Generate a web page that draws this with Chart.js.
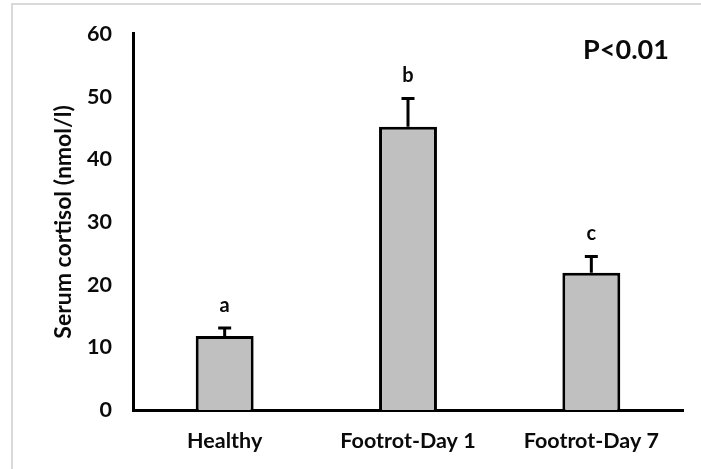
<!DOCTYPE html>
<html>
<head>
<meta charset="utf-8">
<style>
  html, body { margin: 0; padding: 0; background: #ffffff; }
  #wrap { width: 701px; height: 469px; position: relative; }
</style>
<script src="https://cdn.jsdelivr.net/npm/chart.js@4"></script>
</head>
<body>
<div id="wrap"><canvas id="chart" width="701" height="469"></canvas></div>
<script>
// Serum cortisol by group: mean, standard error and significance letters
const groups = ['Healthy', 'Footrot-Day 1', 'Footrot-Day 7'];
const cortisolMean = [11.8, 45.2, 21.9];
const cortisolSE = [1.3, 4.5, 2.6];
const sigLetters = ['a', 'b', 'c'];
const yTicks = [0, 10, 20, 30, 40, 50, 60];
const pLabel = 'P<0.01';

const FONT = 'Lato, "Open Sans", sans-serif';
const INK = '#0a0a0a';

// Light frame along the top and left edges
const framePlugin = {
  id: 'frame',
  beforeDraw(chart) {
    const ctx = chart.ctx;
    ctx.save();
    ctx.strokeStyle = '#d9d9d9';
    ctx.lineWidth = 2;
    ctx.beginPath();
    ctx.moveTo(12, chart.height);
    ctx.lineTo(12, 4);
    ctx.lineTo(chart.width, 4);
    ctx.stroke();
    ctx.restore();
  }
};

// Upper error bars, group letters and the P-value note
const errorPlugin = {
  id: 'errorBars',
  afterDatasetsDraw(chart) {
    const ctx = chart.ctx;
    const y = chart.scales.y;
    const meta = chart.getDatasetMeta(0);
    ctx.save();
    ctx.strokeStyle = '#000';
    ctx.lineWidth = 3;
    meta.data.forEach((bar, i) => {
      const x = bar.x;
      const yBase = y.getPixelForValue(cortisolMean[i]);
      const yTop = y.getPixelForValue(cortisolMean[i] + cortisolSE[i]);
      ctx.beginPath();
      ctx.moveTo(x, yBase);
      ctx.lineTo(x, yTop);
      ctx.moveTo(x - 6.5, yTop);
      ctx.lineTo(x + 6.5, yTop);
      ctx.stroke();
      ctx.fillStyle = INK;
      ctx.font = 'bold 20px ' + FONT;
      ctx.textAlign = 'center';
      ctx.textBaseline = 'alphabetic';
      ctx.fillText(sigLetters[i], x, yTop - 16);
    });
    const area = chart.chartArea;
    ctx.fillStyle = INK;
    ctx.font = 'bold 27px ' + FONT;
    ctx.textAlign = 'center';
    ctx.textBaseline = 'alphabetic';
    ctx.fillText(pLabel, area.right - 57, area.top + 25);
    ctx.restore();
  }
};

new Chart(document.getElementById('chart'), {
  type: 'bar',
  data: {
    labels: groups,
    datasets: [{
      data: cortisolMean,
      backgroundColor: '#c0c0c0',
      borderColor: '#000000',
      borderWidth: 3,
      borderSkipped: 'start',
      categoryPercentage: 1,
      barPercentage: 0.316
    }]
  },
  options: {
    responsive: false,
    animation: false,
    devicePixelRatio: 1,
    layout: { padding: { left: 0, right: 18, top: 33, bottom: 0 } },
    plugins: {
      legend: { display: false },
      tooltip: { enabled: false }
    },
    scales: {
      x: {
        grid: { display: false, drawTicks: false },
        border: { display: true, color: '#000', width: 3 },
        ticks: {
          color: INK,
          padding: 18,
          maxRotation: 0,
          font: { family: FONT, size: 21.5, weight: 'bold' }
        },
        afterFit(scale) { scale.height = 59; }
      },
      y: {
        min: 0,
        max: 60,
        afterBuildTicks(scale) { scale.ticks = yTicks.map(v => ({ value: v })); },
        grid: { display: false, drawTicks: false },
        border: { display: true, color: '#000', width: 3 },
        ticks: {
          color: INK,
          padding: 21,
          font: { family: FONT, size: 21.5, weight: 'bold' }
        },
        title: {
          display: true,
          text: 'Serum cortisol (nmol/l)',
          color: INK,
          padding: { top: 50, bottom: 0 },
          font: { family: FONT, size: 23, weight: 'bold' }
        },
        afterFit(scale) { scale.width = 133; }
      }
    }
  },
  plugins: [framePlugin, errorPlugin]
});
</script>
</body>
</html>
